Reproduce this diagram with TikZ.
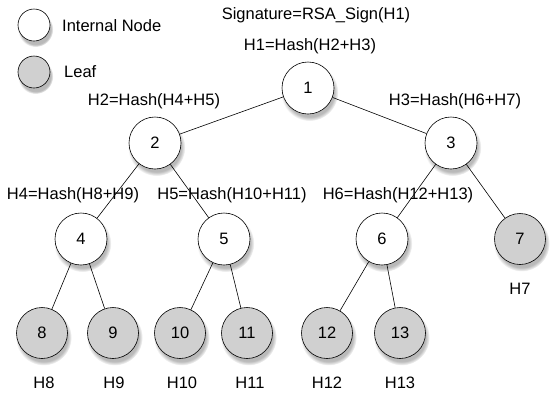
\documentclass[tikz,border=0pt]{standalone}
\usepackage{fontspec}
\setmainfont{Liberation Sans}
\usetikzlibrary{shadows}
\definecolor{leafgrey}{HTML}{D0D0D0}

\begin{document}
\begin{tikzpicture}[x=1pt, y=-1pt, font=\fontsize{16.5}{19}\selectfont,
        inode/.style={draw, circle, fill=white, line width=0.6pt, minimum size=52pt, inner sep=0pt,
          circular drop shadow={shadow xshift=1.5pt, shadow yshift=-4pt, opacity=0.55}},
        leafn/.style={inode, fill=leafgrey, minimum size=51pt},
        keyn/.style={inode, minimum size=32pt},
        lbl/.style={inner sep=0pt}]
        \useasboundingbox (0,0) rectangle (556,397);
        % legend
        \node[keyn] (kint) at (34,25) {};
        \node[keyn, fill=leafgrey] (kleaf) at (34,72) {};
        \node[lbl, anchor=west] (tint) at (62,26) {Internal Node};
        \node[lbl, anchor=west] (tleaf) at (64,72) {Leaf};
        % tree
        \node[inode] (n1) at (308,88) {1};
        \node[inode] (n2) at (155,143) {2};
        \node[inode] (n3) at (451,143) {3};
        \node[inode] (n4) at (81,239) {4};
        \node[inode] (n5) at (224,239) {5};
        \node[inode] (n6) at (382,239) {6};
        \node[leafn] (n7) at (520,239) {7};
        \node[leafn] (n8) at (42,333) {8};
        \node[leafn] (n9) at (113,333) {9};
        \node[leafn] (n10) at (180,333) {10};
        \node[leafn] (n11) at (247,333) {11};
        \node[leafn] (n12) at (327,333) {12};
        \node[leafn] (n13) at (400,333) {13};
        \draw[line width=0.6pt] (n1) -- (n2);
        \draw[line width=0.6pt] (n1) -- (n3);
        \draw[line width=0.6pt] (n2) -- (n4);
        \draw[line width=0.6pt] (n2) -- (n5);
        \draw[line width=0.6pt] (n3) -- (n6);
        \draw[line width=0.6pt] (n3) -- (n7);
        \draw[line width=0.6pt] (n4) -- (n8);
        \draw[line width=0.6pt] (n4) -- (n9);
        \draw[line width=0.6pt] (n5) -- (n10);
        \draw[line width=0.6pt] (n5) -- (n11);
        \draw[line width=0.6pt] (n6) -- (n12);
        \draw[line width=0.6pt] (n6) -- (n13);
        % hash labels
        \node[lbl] (sig) at (316,15) {Signature=RSA\_Sign(H1)};
        \node[lbl] (h1) at (310,46) {H1=Hash(H2+H3)};
        \node[lbl] (h2) at (154,101) {H2=Hash(H4+H5)};
        \node[lbl] (h3) at (455,101) {H3=Hash(H6+H7)};
        \node[lbl] (h4) at (73,195) {H4=Hash(H8+H9)};
        \node[lbl] (h5) at (232,195) {H5=Hash(H10+H11)};
        \node[lbl] (h6) at (398,195) {H6=Hash(H12+H13)};
        \node[lbl] (h7) at (520,289) {H7};
        \node[lbl] (h8) at (44,383) {H8};
        \node[lbl] (h9) at (114,383) {H9};
        \node[lbl] (h10) at (182,383) {H10};
        \node[lbl] (h11) at (250,383) {H11};
        \node[lbl] (h12) at (327,383) {H12};
        \node[lbl] (h13) at (400,383) {H13};
\end{tikzpicture}
\end{document}
